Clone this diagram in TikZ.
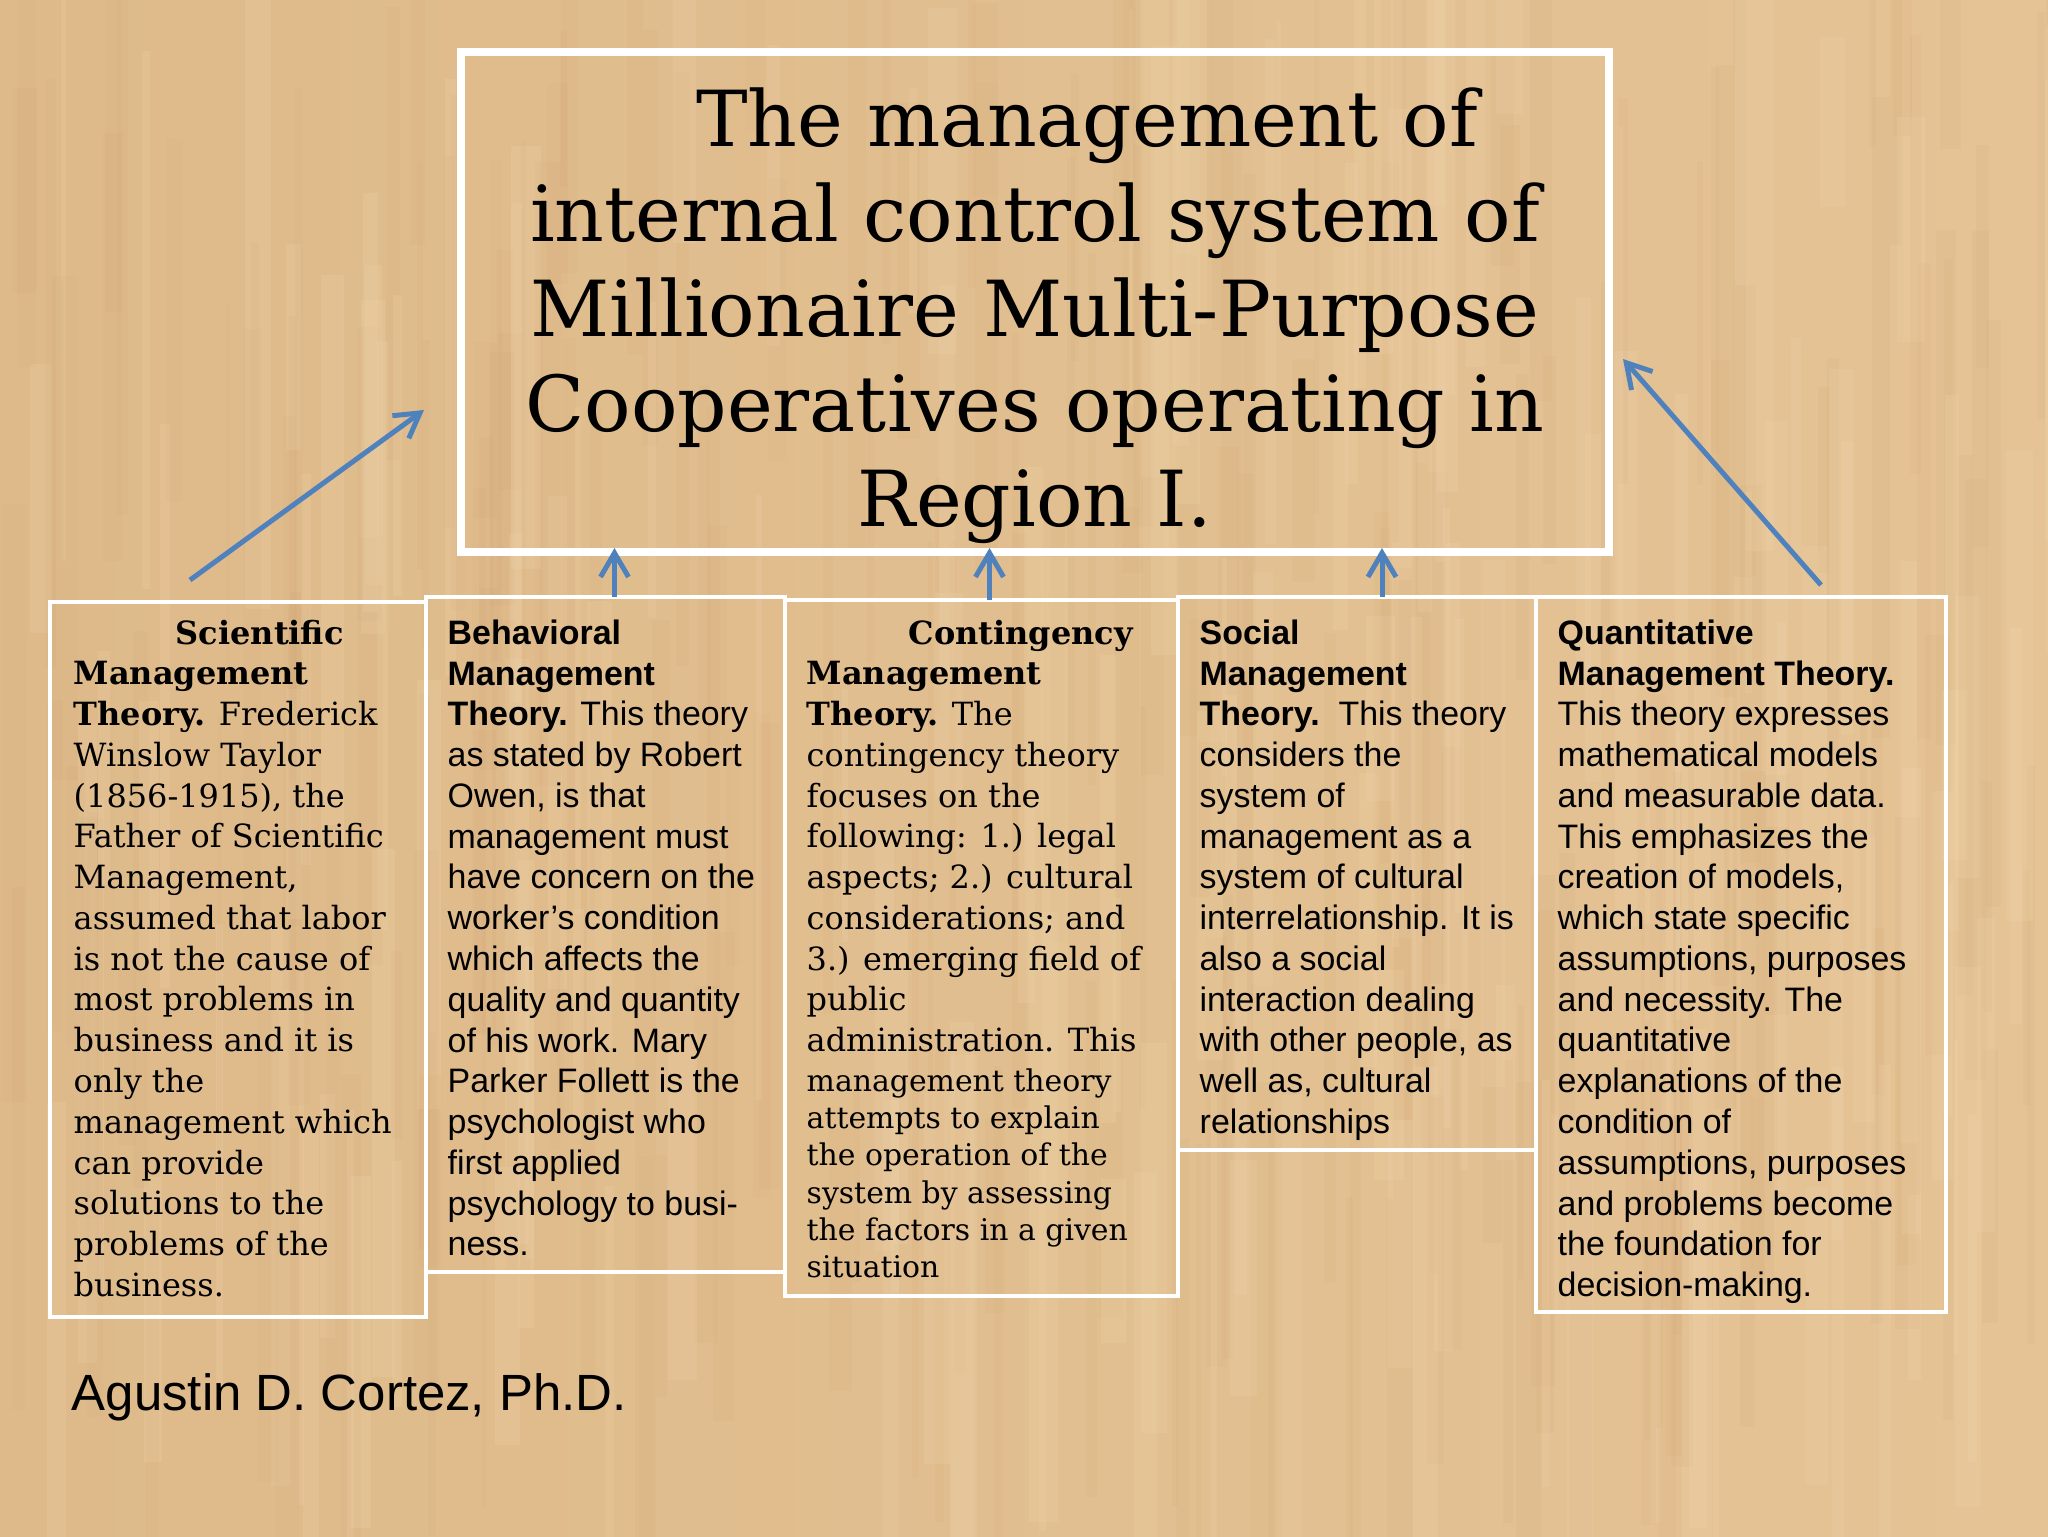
\documentclass[tikz,border=0pt]{standalone}
\usepackage{fontspec}
\setmainfont{DejaVu Serif}
\setsansfont{Liberation Sans}
\usetikzlibrary{arrows.meta,calc}

\definecolor{woodA}{RGB}{222,186,138}
\definecolor{woodB}{RGB}{237,210,166}
\definecolor{woodC}{RGB}{229,195,149}
\definecolor{grain}{RGB}{200,154,104}
\definecolor{grainlight}{RGB}{246,224,186}
\definecolor{arrowblue}{RGB}{79,129,189}

\tikzset{
  frame/.style={draw=white, line width=0.4mm, outer sep=0pt, inner sep=0pt, anchor=north west},
  theory/.style={anchor=north west, inner sep=0pt, align=left, text=black},
  serifbody/.style={theory, font=\fontsize{9.1}{11.6}\selectfont},
  sansbody/.style={theory, font=\sffamily\fontsize{9.65}{11.6}\selectfont},
  uparrow/.style={arrowblue, line width=0.5mm, -{Straight Barb[length=2.4mm,width=2.8mm]}},
}

\begin{document}
\begin{tikzpicture}[x=0.1mm, y=-0.1mm]
	%% Hintergrund
	\useasboundingbox (0,0) rectangle (2048,1536);
	\shade[left color=woodA, middle color=woodB, right color=woodC] (0,0) rectangle (2048,1536);
	\pgfmathsetseed{17}
	\foreach \i in {1,...,220}{
		\pgfmathsetmacro\gx{rnd*2048}
		\pgfmathsetmacro\gy{rnd*1300-100}
		\pgfmathsetmacro\gw{4+rnd*22}
		\pgfmathsetmacro\gh{150+rnd*500}
		\fill[grain, opacity=0.08] (\gx,\gy) rectangle ++(\gw,\gh);
	}
	\foreach \i in {1,...,160}{
		\pgfmathsetmacro\gx{rnd*2048}
		\pgfmathsetmacro\gy{rnd*1300-100}
		\pgfmathsetmacro\gw{4+rnd*26}
		\pgfmathsetmacro\gh{150+rnd*500}
		\fill[grainlight, opacity=0.14] (\gx,\gy) rectangle ++(\gw,\gh);
	}
	%%%%%%%%%%%%%%%%

	%% Titel
	\node[frame, line width=0.8mm, minimum width=114.8mm, minimum height=50mm] (title) at (461,52) {};
	\node[anchor=north, align=center, inner sep=0pt, font=\fontsize{22}{27}\selectfont] (titletext) at ($(title.north)+(0,35)$)
		{\hspace*{10.4mm}The management of\\ internal control system of\\ Millionaire Multi-Purpose\\ Cooperatives operating in\\ Region I.};

	%% Theorien
	\node[frame, minimum width=37.6mm, minimum height=71.5mm] (sci) at (50,602) {};
	\node[frame, minimum width=35.9mm, minimum height=67.5mm] (beh) at (426,597) {};
	\node[frame, minimum width=39.3mm, minimum height=69.6mm] (cont) at (785,600) {};
	\node[frame, minimum width=35.8mm, minimum height=55.3mm] (soc) at (1178,597) {};
	\node[frame, minimum width=41.0mm, minimum height=71.5mm] (quant) at (1536,597) {};

	\node[serifbody] (scitext) at (73,619) {\hspace*{10.2mm}\textbf{Scientific}\\ \textbf{Management}\\ \textbf{Theory.} Frederick\\ Winslow Taylor\\ (1856-1915), the\\ Father of Scientific\\ Management,\\ assumed that labor\\ is not the cause of\\ most problems in\\ business and it is\\ only the\\ management which\\ can provide\\ solutions to the\\ problems of the\\ business.};
	\node[sansbody] (behtext) at (447,619) {\textbf{Behavioral}\\ \textbf{Management}\\ \textbf{Theory.} This theory\\ as stated by Robert\\ Owen, is that\\ management must\\ have concern on the\\ worker's condition\\ which affects the\\ quality and quantity\\ of his work. Mary\\ Parker Follett is the\\ psychologist who\\ first applied\\ psychology to busi-\\ ness.};
	\node[serifbody] (conttext) at (806,619) {\hspace*{10.2mm}\textbf{Contingency}\\ \textbf{Management}\\ \textbf{Theory.} The\\ contingency theory\\ focuses on the\\ following: 1.) legal\\ aspects; 2.) cultural\\ considerations; and\\ 3.) emerging field of\\ public\\ administration. This};
	\node[theory, font=\fontsize{8.5}{10.6}\selectfont] (contsmall) at (806,1068) {management theory\\ attempts to explain\\ the operation of the\\ system by assessing\\ the factors in a given\\ situation};
	\node[sansbody] (soctext) at (1199,619) {\textbf{Social}\\ \textbf{Management}\\ \textbf{Theory.}\ \ This theory\\ considers the\\ system of\\ management as a\\ system of cultural\\ interrelationship. It is\\ also a social\\ interaction dealing\\ with other people, as\\ well as, cultural\\ relationships};
	\node[sansbody] (quanttext) at (1557,619) {\textbf{Quantitative}\\ \textbf{Management Theory.}\\ This theory expresses\\ mathematical models\\ and measurable data.\\ This emphasizes the\\ creation of models,\\ which state specific\\ assumptions, purposes\\ and necessity. The\\ quantitative\\ explanations of the\\ condition of\\ assumptions, purposes\\ and problems become\\ the foundation for\\ decision-making.};

	%% Pfeile
	\draw[uparrow] ($(sci.north)+(-48,-22)$) -- ($(title.west)+(-37,108)$);
	\draw[uparrow] ($(beh.north)+(9,0)$) -- ($(beh.north |- title.south)+(9,-4)$);
	\draw[uparrow] ($(cont.north)+(8,0)$) -- ($(cont.north |- title.south)+(8,-4)$);
	\draw[uparrow] ($(soc.north)+(25,0)$) -- ($(soc.north |- title.south)+(25,-4)$);
	\draw[uparrow] ($(quant.north)+(80,-12)$) -- ($(title.east)+(14,57)$);

	%% Autor
	\node[anchor=base west, inner sep=0pt, font=\sffamily\fontsize{14.5}{17}\selectfont] (author) at (71,1410) {Agustin D. Cortez, Ph.D.};
\end{tikzpicture}
\end{document}
